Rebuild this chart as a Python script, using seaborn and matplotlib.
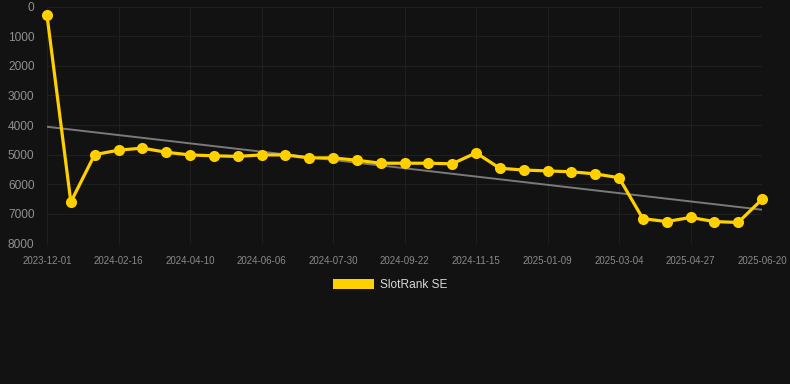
import matplotlib
matplotlib.use("Agg")
import matplotlib.pyplot as plt
import matplotlib.patches as mpatches
import seaborn as sns
import pandas as pd
import numpy as np

dates = ["2023-12-01", "2023-12-27", "2024-01-22", "2024-02-16", "2024-03-05",
         "2024-03-23", "2024-04-10", "2024-04-29", "2024-05-18", "2024-06-06",
         "2024-06-24", "2024-07-12", "2024-07-30", "2024-08-17", "2024-09-04",
         "2024-09-22", "2024-10-10", "2024-10-28", "2024-11-15", "2024-12-03",
         "2024-12-21", "2025-01-09", "2025-01-27", "2025-02-14", "2025-03-04",
         "2025-03-22", "2025-04-09", "2025-04-27", "2025-05-15", "2025-06-02",
         "2025-06-20"]
ranks = [300, 6600, 5000, 4850, 4780, 4920, 5010, 5040, 5060, 5010,
         5010, 5110, 5110, 5190, 5290, 5290, 5290, 5310, 4940, 5460,
         5520, 5550, 5580, 5650, 5780, 7160, 7260, 7120, 7260, 7290,
         6510]
series_name = "SlotRank SE"
y_ticks = [0, 1000, 2000, 3000, 4000, 5000, 6000, 7000, 8000]

df = pd.DataFrame({"idx": np.arange(len(dates)), "date": dates, "rank": ranks})

bg = "#121212"
grid_c = "#1f1f1f"
yellow = "#FFD000"

sns.set_theme(style="dark")
plt.rcParams["font.family"] = ["Liberation Sans", "DejaVu Sans"]

fig = plt.figure(figsize=(7.9, 3.84), dpi=100, facecolor=bg)
W, H = 790, 384
ax = fig.add_axes([47 / W, 1 - 243.5 / H, (762 - 47) / W, (243.5 - 6.5) / H])
ax.set_facecolor(bg)

sns.regplot(data=df, x="idx", y="rank", scatter=False, ci=None, ax=ax,
            line_kws=dict(color="#7a7a7a", lw=1.4, zorder=2))
sns.lineplot(data=df, x="idx", y="rank", ax=ax, color=yellow, lw=2.3,
             marker="o", markersize=8, markeredgewidth=0, zorder=3,
             clip_on=False)

ax.set_xlim(0, len(dates) - 1)
ax.set_ylim(8000, 0)
ax.set_yticks(y_ticks)
ax.set_yticklabels([str(v) for v in y_ticks])
xt = list(range(0, len(dates), 3))
ax.set_xticks(xt)
ax.set_xticklabels([dates[i] for i in xt])

ax.grid(True, color=grid_c, lw=0.8)
for s in ax.spines.values():
    s.set_visible(False)
ax.axhline(8000, color="#2c2c2c", lw=0.8, zorder=1)

ax.tick_params(axis="y", length=0, pad=9, labelsize=8.6, labelcolor="#909090")
ax.tick_params(axis="x", length=5, width=0.8, color=grid_c, pad=4,
               labelsize=7, labelcolor="#8a8a8a")
ax.set_xlabel("")
ax.set_ylabel("")

handle = mpatches.Rectangle((0, 0), 1, 1, facecolor=yellow, edgecolor="none")
leg = fig.legend([handle], [series_name], loc="center", bbox_to_anchor=(390 / W, 1 - 285 / H),
                 frameon=False, fontsize=8.6, handlelength=3.4, handleheight=1.0,
                 handletextpad=0.5)
for t in leg.get_texts():
    t.set_color("#d8d8d8")

fig.savefig("out.png", dpi=100, facecolor=bg)
